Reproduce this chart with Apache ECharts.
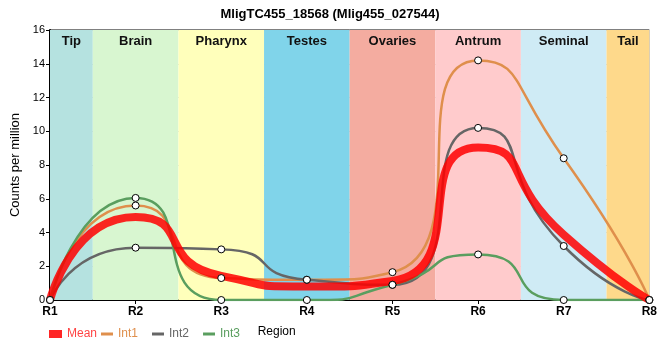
<!DOCTYPE html>
<html><head><meta charset="utf-8">
<script src="https://cdn.jsdelivr.net/npm/echarts@6/dist/echarts.min.js"></script>
<style>html,body{margin:0;padding:0;background:#fff}#c{width:660px;height:360px}</style>
</head><body><div id="c"></div>
<script>
var categories = ['R1','R2','R3','R4','R5','R6','R7','R8'];
var meanVals = [0, 4.92, 1.43, 0.8, 1.13, 9.03, 3.87, 0];
var int1Vals = [0, 5.6, 1.3, 1.2, 1.65, 14.2, 8.4, 0];
var int2Vals = [0, 3.1, 3.0, 1.2, 0.9, 10.2, 3.2, 0];
var int3Vals = [0, 6.05, 0, 0, 0.9, 2.7, 0, 0];
var regionNames = ['Tip','Brain','Pharynx','Testes','Ovaries','Antrum','Seminal','Tail'];
var regionColors = ['#b5e2e0','#d8f6d0','#ffffbb','#80d4ea','#f4aca0','#ffcbcc','#cfebf5','#fed98b'];
var yTicks = [0, 2, 4, 6, 8, 10, 12, 14, 16];

var ff = "'Liberation Sans',Arial,sans-serif";
function pts(arr){ return arr.map(function(v,i){ return [i+1, v]; }); }
var bands = regionNames.map(function(n,i){
  var a = Math.max(1, i+0.5), b = Math.min(8, i+1.5);
  return [{xAxis:a, name:n, itemStyle:{color:regionColors[i]}}, {xAxis:b}];
});
var lineColors = {Mean:'rgba(255,0,0,0.85)', Int1:'#df8f4c', Int2:'#666666', Int3:'#5a9e5f'};
function lineSeries(name, arr, w, z){
  return {name:name, type:'line', data:pts(arr), smooth:0.7,
    showSymbol:false, symbol:'none', z:z,
    lineStyle:{color:lineColors[name], width:w}, itemStyle:{color:lineColors[name]}};
}
function markerSeries(arr){
  return {type:'scatter', data:pts(arr), symbol:'circle', symbolSize:7, z:6, silent:true,
    itemStyle:{color:'#fff', borderColor:'#000', borderWidth:1, opacity:1}};
}
var chart = echarts.init(document.getElementById('c'), null, {renderer:'canvas'});
var bandSeries = {type:'line', data:[], silent:true, z:1,
  markArea:{silent:true, data:bands,
    label:{show:true, position:'insideTop', distance:5, fontFamily:ff, fontWeight:'bold', fontSize:13, color:'#111'}}};
chart.setOption({
  animation:false,
  title:{text:'MligTC455_18568 (Mlig455_027544)', left:'center', top:3,
    textStyle:{fontFamily:ff, fontWeight:'bold', fontSize:13, color:'#000'}},
  grid:{left:50, right:9, top:30, bottom:60, show:true, borderColor:'#000', borderWidth:1, backgroundColor:'transparent'},
  xAxis:{type:'value', min:1, max:8, interval:1, name:'Region', nameLocation:'middle', nameGap:26,
    nameTextStyle:{fontFamily:ff, fontSize:12, color:'#000', padding:[0,146,0,0]},
    axisLine:{lineStyle:{color:'#000', width:2}},
    axisTick:{show:true, length:4, lineStyle:{color:'#000'}},
    axisLabel:{formatter:function(v){return categories[v-1];}, fontFamily:ff, fontWeight:'bold', fontSize:12, color:'#000', margin:6},
    splitLine:{show:true, lineStyle:{color:'#c8c8c8', width:1}}},
  yAxis:{type:'value', min:yTicks[0], max:yTicks[yTicks.length-1], interval:2, name:'Counts per million',
    nameLocation:'middle', nameGap:25, nameTextStyle:{fontFamily:ff, fontSize:13, color:'#000'},
    axisLine:{show:true, lineStyle:{color:'#000', width:2}},
    axisTick:{show:true, length:4, lineStyle:{color:'#000'}},
    axisLabel:{fontFamily:ff, fontSize:11, color:'#000', margin:5},
    splitLine:{show:true, lineStyle:{color:'#c8c8c8', width:1}}},
  legend:[
    {left:44, top:323, itemWidth:13, itemHeight:8, itemGap:10, data:[{name:'Mean', icon:'rect', itemStyle:{color:'rgba(255,0,0,0.85)'}, textStyle:{color:'#ff4444'}}],
      textStyle:{fontFamily:ff, fontSize:12}},
    {left:96, top:323, itemWidth:12, itemHeight:3, itemGap:14, data:[
      {name:'Int1', icon:'rect', itemStyle:{color:'#df8f4c'}, textStyle:{color:'#df8f4c'}},
      {name:'Int2', icon:'rect', itemStyle:{color:'#666666'}, textStyle:{color:'#666666'}},
      {name:'Int3', icon:'rect', itemStyle:{color:'#5a9e5f'}, textStyle:{color:'#5a9e5f'}}],
      textStyle:{fontFamily:ff, fontSize:12}}
  ],
  series:[
    bandSeries,
    lineSeries('Int1', int1Vals, 2.5, 3),
    lineSeries('Int2', int2Vals, 2.5, 3),
    lineSeries('Int3', int3Vals, 2.5, 3),
    lineSeries('Mean', meanVals, 8, 4),
    markerSeries(int1Vals), markerSeries(int2Vals), markerSeries(int3Vals)
  ]
});
</script></body></html>
